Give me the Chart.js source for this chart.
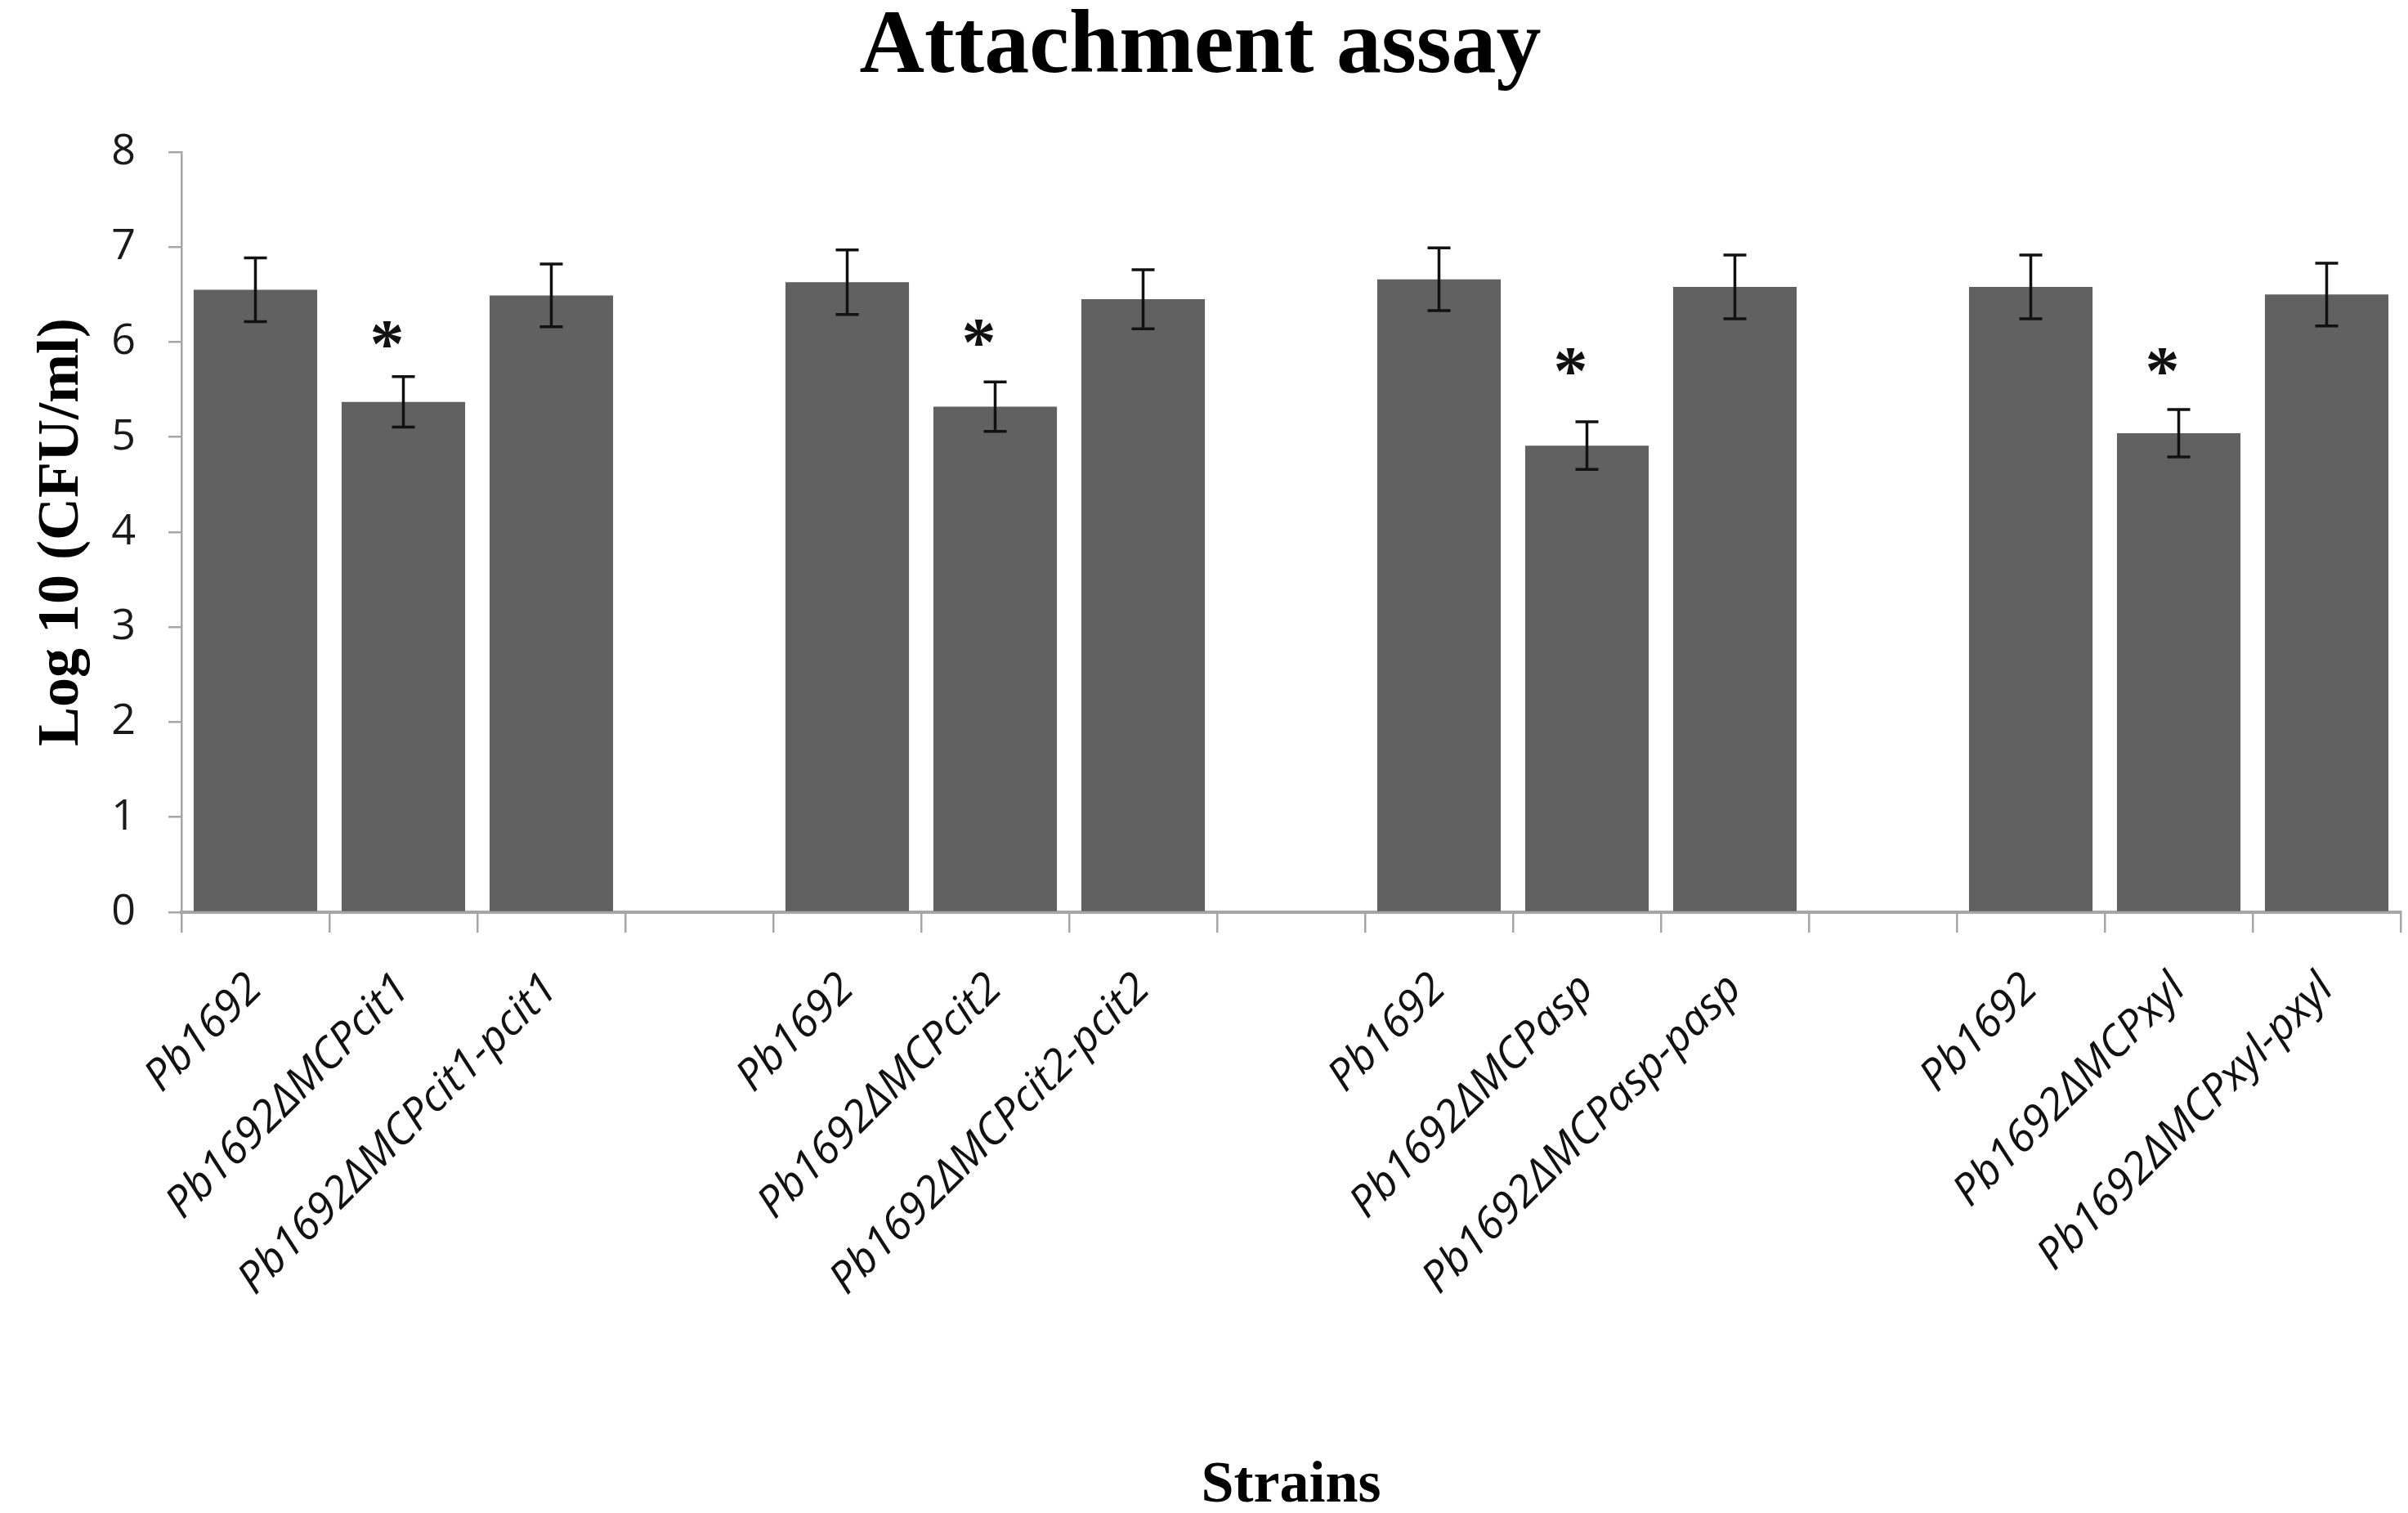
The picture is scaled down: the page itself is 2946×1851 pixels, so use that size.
<!DOCTYPE html>
<html>
<head>
<meta charset="utf-8">
<title>Attachment assay</title>
<script src="https://cdn.jsdelivr.net/npm/chart.js@4.4.1/dist/chart.umd.min.js"></script>
<style>
  html, body { margin: 0; padding: 0; background: #ffffff; }
  #wrap { width: 2946px; height: 1851px; }
</style>
</head>
<body>
<div id="wrap"><canvas id="attachChart" width="2946" height="1851"></canvas></div>
<script>
// strains, with an empty slot between the four groups
const strains = [
  "Pb1692", "Pb1692ΔMCPcit1", "Pb1692ΔMCPcit1-pcit1", "",
  "Pb1692", "Pb1692ΔMCPcit2", "Pb1692ΔMCPcit2-pcit2", "",
  "Pb1692", "Pb1692ΔMCPasp", "Pb1692ΔMCPasp-pasp", "",
  "Pb1692", "Pb1692ΔMCPxyl", "Pb1692ΔMCPxyl-pxyl",
];

// log10 CFU/ml
const meanLog = [
  6.55, 5.37, 6.49, null,
  6.63, 5.32, 6.45, null,
  6.66, 4.91, 6.58, null,
  6.58, 5.04, 6.50,
];

// error bar half-length
const errLog = [
  0.335, 0.265, 0.33, null,
  0.34, 0.26, 0.31, null,
  0.33, 0.25, 0.335, null,
  0.335, 0.25, 0.33,
];

// where the significance asterisks sit (y value)
const starAt = [
  null, 6.07, null, null,
  null, 6.09, null, null,
  null, 5.79, null, null,
  null, 5.79, null,
];

const yTicks = [0, 1, 2, 3, 4, 5, 6, 7, 8];

const errorBars = {
  id: "errorBars",
  afterDatasetsDraw(chart) {
    const ctx = chart.ctx;
    const meta = chart.getDatasetMeta(0);
    const y = chart.scales.y;
    ctx.save();
    ctx.strokeStyle = "#111111";
    ctx.lineWidth = 3.5;
    meta.data.forEach((bar, i) => {
      if (meanLog[i] == null || errLog[i] == null) return;
      const x = bar.x;
      const top = y.getPixelForValue(meanLog[i] + errLog[i]);
      const bot = y.getPixelForValue(meanLog[i] - errLog[i]);
      const cap = 14;
      ctx.beginPath();
      ctx.moveTo(x, top);
      ctx.lineTo(x, bot);
      ctx.moveTo(x - cap, top);
      ctx.lineTo(x + cap, top);
      ctx.moveTo(x - cap, bot);
      ctx.lineTo(x + cap, bot);
      ctx.stroke();
    });
    ctx.restore();
  },
};

const stars = {
  id: "stars",
  afterDatasetsDraw(chart) {
    const ctx = chart.ctx;
    const meta = chart.getDatasetMeta(0);
    const y = chart.scales.y;
    ctx.save();
    ctx.fillStyle = "#111111";
    ctx.font = "bold 84px 'Liberation Serif'";
    ctx.textAlign = "center";
    ctx.textBaseline = "alphabetic";
    meta.data.forEach((bar, i) => {
      if (starAt[i] == null) return;
      // asterisk glyph centre is about 0.47em above the baseline
      ctx.fillText("*", bar.x - 20, y.getPixelForValue(starAt[i]) + 39);
    });
    ctx.restore();
  },
};

new Chart(document.getElementById("attachChart"), {
  type: "bar",
  data: {
    labels: strains,
    datasets: [
      {
        data: meanLog,
        backgroundColor: "#616161",
        borderWidth: 0,
        barPercentage: 0.835,
        categoryPercentage: 1.0,
      },
    ],
  },
  options: {
    responsive: false,
    animation: false,
    devicePixelRatio: 1,
    layout: { padding: { left: 0, right: 9, top: 0, bottom: 0 } },
    plugins: {
      legend: { display: false },
      tooltip: { enabled: false },
      title: {
        display: true,
        text: "Attachment assay",
        color: "#000000",
        font: { family: "'Liberation Serif'", size: 110, weight: "bold", lineHeight: 1.09 },
        padding: { top: 0, bottom: 66 },
      },
    },
    scales: {
      x: {
        offset: true,
        afterFit(scale) { scale.height = 735; },
        border: { display: true, color: "#a6a6a6", width: 4 },
        grid: {
          offset: true,
          drawOnChartArea: false,
          drawTicks: true,
          tickLength: 25,
          color: "#a6a6a6",
          lineWidth: 2.5,
        },
        ticks: {
          autoSkip: false,
          minRotation: 45,
          maxRotation: 45,
          padding: 38,
          color: "#111111",
          font: { family: "'Open Sans'", size: 53, style: "italic" },
        },
        title: {
          display: true,
          text: "Strains",
          color: "#000000",
          font: { family: "'Liberation Serif'", size: 72, weight: "bold", lineHeight: 0.9 },
          padding: { top: 0, bottom: 0 },
        },
      },
      y: {
        min: 0,
        max: 8,
        afterFit(scale) { scale.width = 222; },
        afterBuildTicks(scale) { scale.ticks = yTicks.map((v) => ({ value: v })); },
        border: { display: true, color: "#a6a6a6", width: 2.5 },
        grid: {
          drawOnChartArea: false,
          drawTicks: true,
          tickLength: 16,
          color: "#a6a6a6",
          lineWidth: 2.5,
        },
        ticks: {
          padding: 40,
          color: "#1a1a1a",
          font: { family: "'Open Sans'", size: 52 },
        },
        title: {
          display: true,
          text: "Log 10 (CFU/ml)",
          color: "#000000",
          font: { family: "'Liberation Serif'", size: 72, weight: "bold", lineHeight: 1.2 },
          padding: { top: 33, bottom: 0 },
        },
      },
    },
  },
  plugins: [errorBars, stars],
});
</script>
</body>
</html>
